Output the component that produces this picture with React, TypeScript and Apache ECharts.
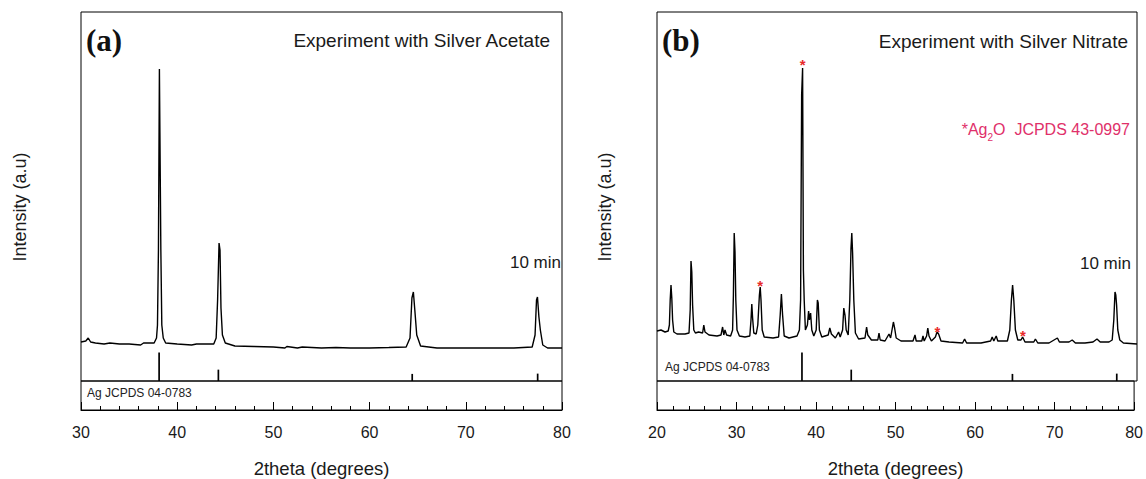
import React, { useEffect, useRef } from "react";
import * as echarts from "echarts";

// Reference pattern: Ag JCPDS 04-0783 (2theta, relative intensity)
const agRefTheta = [38.12, 44.28, 64.43, 77.47];
const agRefIntensity = [100, 40, 25, 26];

// (a) Experiment with Silver Acetate, 10 min (2theta, intensity a.u.)
const acetateTheta = [
  30.0, 30.5, 30.75, 31.0, 31.5, 32.4, 33.0, 34.0, 35.0, 36.2, 36.5, 37.6, 37.85, 37.95, 38.05, 38.15,
  38.22, 38.3, 38.4, 38.55, 38.8, 40.0, 41.5, 42.0, 43.8, 44.05, 44.2, 44.35, 44.45, 44.55, 44.7, 45.0,
  46.0, 48.0, 50.0, 51.2, 51.4, 52.5, 53.0, 55.0, 56.5, 58.0, 60.0, 62.0, 63.8, 64.2, 64.4, 64.55, 64.7,
  64.9, 65.3, 67.0, 70.0, 75.0, 76.9, 77.2, 77.35, 77.45, 77.6, 77.75, 78.0, 78.5, 80.0,
];
const acetateIntensity = [
  390, 400, 430, 390, 380, 370, 380, 370, 370, 360, 380, 380, 430, 560, 1310, 3120,
  3120, 1310, 560, 430, 380, 370, 360, 370, 370, 430, 810, 1380, 1310, 730, 460, 380,
  350, 345, 340, 330, 345, 330, 340, 330, 335, 330, 330, 335, 340, 430, 830, 890, 710,
  460, 350, 330, 330, 330, 340, 460, 810, 840, 640, 510, 360, 330, 330,
];

// (b) Experiment with Silver Nitrate, 10 min (2theta, intensity a.u.)
const nitrateTheta = [
  20.0, 20.5, 21.0, 21.4, 21.55, 21.65, 21.75, 21.85, 21.95, 22.1, 22.5, 23.5, 24.0, 24.15, 24.25, 24.35,
  24.45, 24.6, 24.8, 25.2, 25.7, 25.85, 26.0, 26.5, 27.5, 28.0, 28.2, 28.35, 28.5, 28.7, 29.2, 29.45,
  29.55, 29.65, 29.75, 29.85, 30.0, 30.3, 31.0, 31.6, 31.75, 31.85, 31.95, 32.1, 32.4, 32.6, 32.8, 32.9,
  33.0, 33.15, 33.4, 34.5, 35.2, 35.4, 35.55, 35.7, 35.9, 36.5, 37.5, 37.8, 37.95, 38.08, 38.2, 38.3,
  38.4, 38.55, 38.8, 38.95, 39.05, 39.2, 39.35, 39.6, 39.9, 40.05, 40.15, 40.3, 40.6, 41.4, 41.6, 41.8,
  42.3, 42.7, 42.9, 43.2, 43.35, 43.5, 43.65, 43.9, 44.1, 44.25, 44.35, 44.45, 44.6, 44.8, 45.2, 46.0,
  46.2, 46.35, 46.8, 47.6, 47.75, 47.9, 48.5, 49.0, 49.2, 49.55, 49.7, 49.9, 50.5, 52.0, 52.25, 52.4,
  53.1, 53.25, 53.4, 53.7, 53.85, 54.0, 54.3, 54.8, 55.0, 55.2, 55.5, 56.5, 58.2, 58.45, 58.7, 60.5,
  61.7, 61.9, 62.1, 62.4, 62.6, 63.8, 64.1, 64.3, 64.45, 64.6, 64.8, 65.1, 65.5, 65.7, 66.0, 67.1,
  67.3, 67.6, 69.0, 70.05, 70.3, 71.5, 71.9, 72.3, 73.5, 74.5, 75.0, 75.4, 76.5, 76.9, 77.1, 77.25,
  77.35, 77.45, 77.6, 77.85, 78.3, 80.0,
];
const nitrateIntensity = [
  500, 510, 490, 500, 560, 810, 960, 830, 610, 490, 470, 470, 480, 710, 1200, 1090,
  760, 510, 480, 490, 480, 560, 490, 460, 450, 460, 540, 460, 510, 460, 450, 510,
  860, 1480, 1290, 810, 510, 450, 440, 450, 610, 770, 630, 480, 470, 560, 860, 940,
  810, 510, 440, 430, 440, 660, 870, 660, 450, 430, 450, 510, 810, 2860, 3130, 1110,
  810, 510, 560, 700, 610, 680, 510, 450, 510, 810, 780, 510, 440, 460, 530, 470,
  430, 490, 440, 510, 730, 660, 510, 460, 810, 1330, 1480, 1280, 810, 480, 420, 430,
  540, 460, 410, 410, 480, 410, 400, 470, 430, 590, 530, 430, 400, 400, 460, 400,
  400, 450, 400, 450, 530, 450, 400, 440, 490, 470, 400, 390, 380, 420, 380, 380,
  400, 440, 400, 450, 400, 400, 510, 810, 960, 810, 510, 410, 410, 440, 390, 390,
  420, 380, 380, 430, 390, 390, 410, 380, 380, 390, 420, 390, 390, 410, 610, 890,
  860, 760, 510, 410, 380, 370,
];

// Ag2O (JCPDS 43-0997) marks in (b)
const ag2oMarkTheta = [32.9, 38.2, 55.05, 65.75];
const ag2oMarkHeight = [1000, 3210, 540, 500];

const acetateRange = [30, 80];
const nitrateRange = [20, 80];
const tickStep = 10;

const SANS = "'Liberation Sans', Arial, sans-serif";
const SERIF = "'Liberation Serif', 'Times New Roman', serif";
const TXT = "#1a1a1a";

const zip = (xs: number[], ys: number[]) => xs.map((x, i) => [x, ys[i]]);

const stickRender = (params: any, api: any) => {
  const p0 = api.coord([api.value(0), 0]);
  const p1 = api.coord([api.value(0), api.value(1)]);
  return {
    type: "line",
    shape: { x1: p0[0], y1: p0[1], x2: p1[0], y2: p1[1] },
    style: { stroke: "#000", lineWidth: 1.7 },
  };
};

const starRender = (params: any, api: any) => {
  const p = api.coord([api.value(0), api.value(1)]);
  return {
    type: "text",
    x: p[0],
    y: p[1] + 4,
    style: {
      text: "*",
      fill: "#e82a2a",
      font: `bold 15px ${SANS}`,
      align: "center",
      verticalAlign: "middle",
    },
  };
};

export default function App() {
  const ref = useRef<HTMLDivElement>(null);
  useEffect(() => {
    if (!ref.current) return;
    const chart = echarts.init(ref.current, undefined, { renderer: "svg" });

    const panels = [
      { left: 81, width: 481, range: acetateRange },
      { left: 657, width: 480, range: nitrateRange },
    ];
    const grids: any[] = [];
    const xAxes: any[] = [];
    const yAxes: any[] = [];
    panels.forEach((p) => {
      grids.push({ left: p.left, width: p.width, top: 12, height: 369, show: true, borderColor: "#000", borderWidth: 1, backgroundColor: "transparent" });
      grids.push({ left: p.left, width: p.width, top: 381, height: 30, show: true, borderColor: "#000", borderWidth: 1, backgroundColor: "transparent" });
    });
    panels.forEach((p, i) => {
      xAxes.push({ type: "value", gridIndex: i * 2, min: p.range[0], max: p.range[1], show: false });
      xAxes.push({
        type: "value",
        gridIndex: i * 2 + 1,
        min: p.range[0],
        max: p.range[1],
        interval: tickStep,
        axisLine: { show: true, lineStyle: { color: "#000", width: 1 } },
        axisTick: { show: true, inside: true, length: 8, lineStyle: { color: "#000", width: 1 } },
        minorTick: { show: true, splitNumber: 5, length: 4, lineStyle: { color: "#000", width: 1 } },
        splitLine: { show: false },
        minorSplitLine: { show: false },
        axisLabel: { color: TXT, fontSize: 16, fontFamily: SANS, margin: 14 },
        name: "2theta (degrees)",
        nameLocation: "middle",
        nameGap: 49,
        nameTextStyle: { color: TXT, fontSize: 18.5, fontFamily: SANS },
      });
      // trace axis (index i*3), stick axis (i*3+1), lower strip axis (i*3+2)
      yAxes.push({ type: "value", gridIndex: i * 2, min: 0, max: 3690, show: false });
      yAxes.push({ type: "value", gridIndex: i * 2, min: 0, max: 1300, show: false });
      yAxes.push({ type: "value", gridIndex: i * 2 + 1, min: 0, max: 1, show: false });
    });

    const series: any[] = [
      {
        type: "line",
        xAxisIndex: 0,
        yAxisIndex: 0,
        data: zip(acetateTheta, acetateIntensity),
        showSymbol: false,
        lineStyle: { color: "#000", width: 1.4 },
        z: 3,
      },
      {
        type: "custom",
        xAxisIndex: 0,
        yAxisIndex: 1,
        data: zip(agRefTheta, agRefIntensity),
        renderItem: stickRender,
      },
      {
        type: "line",
        xAxisIndex: 2,
        yAxisIndex: 3,
        data: zip(nitrateTheta, nitrateIntensity),
        showSymbol: false,
        lineStyle: { color: "#000", width: 1.4 },
        z: 3,
      },
      {
        type: "custom",
        xAxisIndex: 2,
        yAxisIndex: 4,
        data: zip(agRefTheta, agRefIntensity),
        renderItem: stickRender,
      },
      {
        type: "custom",
        xAxisIndex: 2,
        yAxisIndex: 3,
        data: zip(ag2oMarkTheta, ag2oMarkHeight),
        renderItem: starRender,
        z: 4,
      },
    ];

    const text = (t: string, x: number, y: number, opts: any = {}) => ({
      type: "text",
      x,
      y,
      rotation: opts.rotation || 0,
      style: {
        text: t,
        fill: opts.fill || TXT,
        font: opts.font || `19px ${SANS}`,
        align: opts.align || "left",
        verticalAlign: "middle",
      },
    });

    const graphic: any[] = [
      text("(a)", 86, 40, { font: `bold 31px ${SERIF}`, fill: "#111" }),
      text("Experiment with Silver Acetate", 550, 40, { align: "right" }),
      text("10 min", 561, 262, { align: "right", font: `17px ${SANS}` }),
      text("Intensity (a.u)", 20, 207, { align: "center", rotation: Math.PI / 2, font: `18px ${SANS}` }),
      text("Ag JCPDS 04-0783", 87, 393, { font: `12px ${SANS}`, fill: "#222" }),
      text("(b)", 662, 40, { font: `bold 31px ${SERIF}`, fill: "#111" }),
      text("Experiment with Silver Nitrate", 1128, 41, { align: "right" }),
      text("10 min", 1131, 263, { align: "right", font: `17px ${SANS}` }),
      text("Intensity (a.u)", 605, 207, { align: "center", rotation: Math.PI / 2, font: `18px ${SANS}` }),
      text("Ag JCPDS 04-0783", 665, 367, { font: `12px ${SANS}`, fill: "#222" }),
      {
        type: "text",
        x: 1130,
        y: 129,
        style: {
          text: "{a|*Ag}{s|2}{a|O  JCPDS 43-0997}",
          align: "right",
          verticalAlign: "middle",
          fill: "#e0306a",
          rich: {
            a: { fontSize: 16, fontFamily: SANS, fill: "#e0306a", lineHeight: 22 },
            s: { fontSize: 10, fontFamily: SANS, fill: "#e0306a", lineHeight: 22, padding: [16, 0, 0, 0] },
          },
        },
      },
    ];

    chart.setOption({
      animation: false,
      backgroundColor: "#fff",
      grid: grids,
      xAxis: xAxes,
      yAxis: yAxes,
      series,
      graphic,
    });
    return () => chart.dispose();
  }, []);

  return (
    <div
      ref={ref}
      style={{ position: "absolute", left: 0, top: 0, width: 1146, height: 479, background: "#fff" }}
    />
  );
}
